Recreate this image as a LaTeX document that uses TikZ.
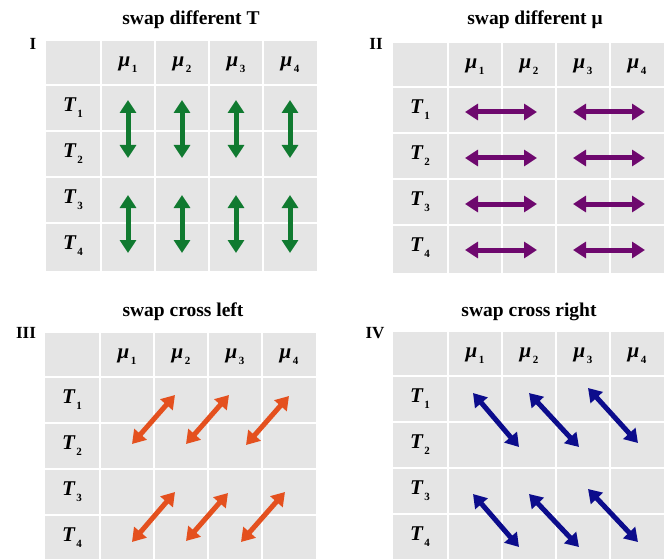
\documentclass[tikz,border=0pt]{standalone}
\usepackage{fontspec}
\setmainfont{Liberation Serif}
\usetikzlibrary{arrows.meta}
\definecolor{cellgray}{RGB}{229,229,229}
\definecolor{swapgreen}{RGB}{16,122,48}
\definecolor{swappurple}{RGB}{110,8,110}
\definecolor{swaporange}{RGB}{228,80,30}
\definecolor{swapnavy}{RGB}{12,12,140}
\tikzset{
  gridline/.style={ white, line width=1.5pt }
}
\tikzset{
  title/.style={ font=\bfseries\fontsize{19.5}{20}\selectfont, anchor=base }
}
\tikzset{
  numeral/.style={ font=\bfseries\fontsize{17}{17}\selectfont }
}
\tikzset{
  axislab/.style={ font=\bfseries\itshape\fontsize{21}{21}\selectfont, inner sep=0pt }
}
\tikzset{
  dbl/.style={ line width=5pt, {Triangle[width=16pt,length=13pt]}-{Triangle[width=16pt,length=13pt]} }
}
\newcommand{\sublab}[2]{#1\kern1.5pt\raisebox{-6pt}{\upshape\fontsize{11}{11}\selectfont #2}}
% one grid: #1,#2 top left corner, #3 name prefix, #4 height
\newcommand{\swapgrid}[4]{%
  \begin{scope}[shift={(#1,#2)}, name prefix=#3-]
    \fill[cellgray] (0,0) rectangle (271,#4);
    \foreach \gx in {55,109,163,217} \draw[gridline] (\gx,0) -- (\gx,#4);
    \foreach \gy in {44,90,136,182} \draw[gridline] (0,\gy) -- (271,\gy);
    \foreach \i in {1,...,4} {
      \node[axislab] (mu\i) at ({28+54*\i},24) {\sublab{μ}{\i}};
      \node[axislab] (T\i) at (27,{67+46*(\i-1)}) {\sublab{T}{\i}};
    }
  \end{scope}}

\begin{document}
\begin{tikzpicture}[x=1pt, y=-1pt]
  \useasboundingbox (0,0) rectangle (667,559);
  \clip (0,0) rectangle (667,559);
  % titles and numbers
  \node[title] (tI) at (191,25) {swap different T};
  \node[title] (tII) at (535,25) {swap different μ};
  \node[title] (tIII) at (183,316) {swap cross left};
  \node[title] (tIV) at (529,316) {swap cross right};
  \node[numeral] (nI) at (33,44) {I};
  \node[numeral] (nII) at (376,44) {II};
  \node[numeral] (nIII) at (26,333) {III};
  \node[numeral] (nIV) at (375,333) {IV};
  % the four grids
  \swapgrid{46}{41}{p1}{230}
  \swapgrid{393}{43}{p2}{230}
  \swapgrid{45}{333}{p3}{226}
  \swapgrid{393}{332}{p4}{227}
  % I: swap different T
  \begin{scope}[shift={(46,41)}]
    \foreach \x in {82,136,190,244} {
      \draw[dbl, swapgreen] (\x,59) -- (\x,117);
      \draw[dbl, swapgreen] (\x,154) -- (\x,212);
    }
  \end{scope}
  % II: swap different mu
  \begin{scope}[shift={(393,43)}]
    \foreach \y in {69,115,161,207} {
      \draw[dbl, swappurple] (72,\y) -- (144,\y);
      \draw[dbl, swappurple] (180,\y) -- (252,\y);
    }
  \end{scope}
  % III: swap cross left
  \begin{scope}[shift={(45,333)}]
    \draw[dbl, swaporange] (87,111) -- (130,62);
    \draw[dbl, swaporange] (141,111) -- (184,62);
    \draw[dbl, swaporange] (201,112) -- (244,63);
    \draw[dbl, swaporange] (87,209) -- (130,159);
    \draw[dbl, swaporange] (141,208) -- (183,160);
    \draw[dbl, swaporange] (196,209) -- (240,159);
  \end{scope}
  % IV: swap cross right
  \begin{scope}[shift={(393,332)}]
    \draw[dbl, swapnavy] (80,61) -- (126,115);
    \draw[dbl, swapnavy] (136,61) -- (186,115);
    \draw[dbl, swapnavy] (195,56) -- (245,111);
    \draw[dbl, swapnavy] (80,162) -- (126,215);
    \draw[dbl, swapnavy] (136,162) -- (186,215);
    \draw[dbl, swapnavy] (195,157) -- (245,210);
  \end{scope}
\end{tikzpicture}
\end{document}
